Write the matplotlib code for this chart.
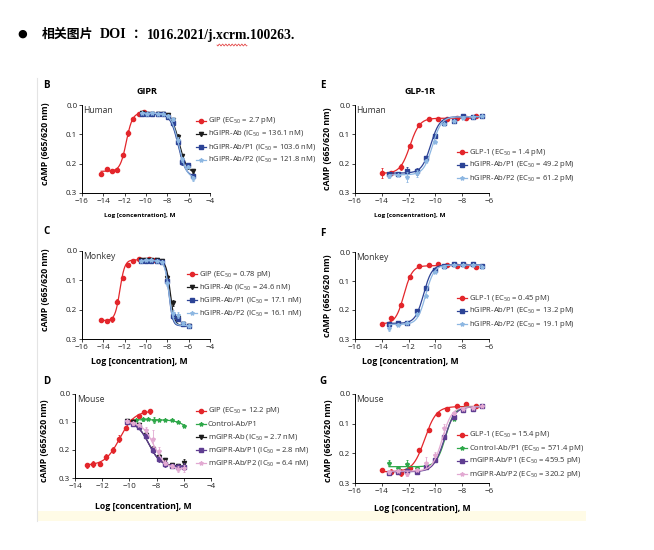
import numpy as np
import matplotlib
matplotlib.use("Agg")
import matplotlib.pyplot as plt
from matplotlib.lines import Line2D
from matplotlib.patches import Rectangle

W, H = 654, 550
plt.rcParams['font.family'] = ['Open Sans', 'DejaVu Sans']
plt.rcParams['mathtext.fontset'] = 'custom'
plt.rcParams['mathtext.rm'] = 'Open Sans'
plt.rcParams['mathtext.it'] = 'Open Sans'

RED = '#e3262b'; BLACK = '#1c1c1c'; DBLUE = '#2c4396'; LBLUE = '#8db7e2'
GREEN = '#2fa84a'; PURPLE = '#5f3d91'; PINK = '#e2a9d2'

# ---------------- data ----------------
# Panel B: GIPR human
B_gip_x = [-14.2, -13.7, -13.2, -12.7, -12.2, -11.7, -11.2, -10.7, -10.2]
B_gip_y = [0.235, 0.218, 0.224, 0.222, 0.171, 0.096, 0.049, 0.030, 0.025]
B_gip_e = [0.004, 0.004, 0.003, 0.005, 0.006, 0.010, 0.004, 0.003, 0.003]
B_gip_fit = [0.226, 0.026, -11.85, 1.5]
B_ab_x = [-10.4, -9.9, -9.4, -8.9, -8.4, -7.9, -7.5, -7.0, -6.6, -6.1, -5.6]
B_ab_y = [0.028, 0.030, 0.029, 0.030, 0.031, 0.035, 0.052, 0.108, 0.175, 0.212, 0.226]
B_ab_e = [0.003, 0.003, 0.003, 0.003, 0.003, 0.004, 0.006, 0.010, 0.008, 0.006, 0.006]
B_ab_fit = [0.029, 0.232, -6.88, 1.2]
B_p1_y = [0.030, 0.031, 0.029, 0.031, 0.032, 0.040, 0.060, 0.125, 0.195, 0.205, 0.243]
B_p1_e = [0.003, 0.003, 0.003, 0.003, 0.003, 0.004, 0.006, 0.008, 0.008, 0.006, 0.008]
B_p1_fit = [0.030, 0.245, -6.98, 1.2]
B_p2_y = [0.027, 0.029, 0.027, 0.030, 0.031, 0.036, 0.049, 0.118, 0.185, 0.210, 0.250]
B_p2_e = [0.003, 0.003, 0.003, 0.003, 0.003, 0.004, 0.006, 0.008, 0.008, 0.006, 0.008]
B_p2_fit = [0.028, 0.250, -6.91, 1.2]

# Panel C: GIPR monkey
C_gip_x = [-14.2, -13.7, -13.2, -12.7, -12.2, -11.7, -11.2, -10.7, -10.2, -9.7, -9.2]
C_gip_y = [0.236, 0.238, 0.233, 0.173, 0.091, 0.049, 0.034, 0.028, 0.030, 0.027, 0.030]
C_gip_e = [0.006, 0.003, 0.008, 0.008, 0.004, 0.003, 0.002, 0.003, 0.003, 0.003, 0.003]
C_gip_fit = [0.237, 0.030, -12.45, 1.9]
C_ab_x = [-10.5, -10.0, -9.5, -9.0, -8.5, -8.0, -7.5, -7.0, -6.5, -6.0]
C_ab_y = [0.032, 0.031, 0.030, 0.031, 0.035, 0.091, 0.177, 0.228, 0.250, 0.255]
C_ab_e = [0.003, 0.003, 0.003, 0.003, 0.003, 0.008, 0.010, 0.008, 0.004, 0.004]
C_ab_fit = [0.032, 0.255, -7.72, 2.2]
C_p1_y = [0.035, 0.034, 0.033, 0.034, 0.037, 0.103, 0.222, 0.232, 0.250, 0.256]
C_p1_e = [0.003, 0.003, 0.003, 0.003, 0.003, 0.008, 0.010, 0.008, 0.004, 0.006]
C_p1_fit = [0.035, 0.255, -7.85, 2.5]
C_p2_y = [0.033, 0.032, 0.031, 0.033, 0.036, 0.110, 0.213, 0.219, 0.247, 0.254]
C_p2_e = [0.003, 0.003, 0.003, 0.003, 0.003, 0.008, 0.012, 0.010, 0.005, 0.006]
C_p2_fit = [0.033, 0.254, -7.85, 2.2]

# Panel D: GIPR mouse
D_gip_x = [-13.1, -12.65, -12.15, -11.7, -11.2, -10.75, -10.25, -9.8, -9.3, -8.9, -8.45]
D_gip_y = [0.255, 0.250, 0.249, 0.225, 0.199, 0.160, 0.121, 0.095, 0.077, 0.064, 0.062]
D_gip_e = [0.008, 0.012, 0.006, 0.010, 0.010, 0.012, 0.008, 0.006, 0.005, 0.006, 0.010]
D_gip_fit = [0.255, 0.060, -10.7, 0.8]
D_ctl_x = [-9.5, -9.0, -8.6, -8.2, -7.8, -7.35, -6.9, -6.4, -5.95]
D_ctl_y = [0.092, 0.091, 0.090, 0.093, 0.093, 0.092, 0.093, 0.100, 0.114]
D_ctl_e = [0.004, 0.004, 0.004, 0.010, 0.004, 0.003, 0.003, 0.003, 0.004]
D_ctl_fit = [0.092, 0.140, -5.8, 1.0]
D_ab_x = [-10.2, -9.75, -9.3, -8.8, -8.3, -7.8, -7.35, -6.9, -6.45, -5.95]
D_ab_y = [0.095, 0.100, 0.112, 0.145, 0.196, 0.225, 0.235, 0.255, 0.258, 0.245]
D_ab_e = [0.005, 0.005, 0.006, 0.008, 0.010, 0.010, 0.008, 0.008, 0.008, 0.012]
D_ab_fit = [0.098, 0.258, -8.57, 1.0]
D_p1_y = [0.100, 0.106, 0.118, 0.150, 0.200, 0.232, 0.250, 0.257, 0.260, 0.260]
D_p1_e = [0.005, 0.005, 0.006, 0.008, 0.010, 0.012, 0.010, 0.008, 0.010, 0.012]
D_p1_fit = [0.100, 0.260, -8.55, 1.0]
D_p2_y = [0.098, 0.104, 0.110, 0.128, 0.160, 0.205, 0.245, 0.258, 0.268, 0.265]
D_p2_e = [0.005, 0.005, 0.006, 0.010, 0.030, 0.015, 0.010, 0.008, 0.010, 0.012]
D_p2_fit = [0.100, 0.268, -8.19, 1.0]

# Panels E-G: GLP-1R
EFG_lig_x = [-14.0, -13.3, -12.6, -11.9, -11.2, -10.5, -9.8, -9.1, -8.4, -7.7, -7.0]
EFG_ab_x = [-13.45, -12.77, -12.1, -11.4, -10.7, -10.03, -9.33, -8.64, -7.92, -7.22, -6.55]
E_glp_y = [0.232, 0.232, 0.212, 0.140, 0.068, 0.049, 0.048, 0.047, 0.045, 0.043, 0.038]
E_glp_e = [0.018, 0.005, 0.010, 0.004, 0.003, 0.002, 0.002, 0.002, 0.002, 0.002, 0.002]
E_glp_fit = [0.233, 0.045, -11.9, 1.2]
E_p1_y = [0.236, 0.234, 0.226, 0.226, 0.179, 0.105, 0.060, 0.053, 0.037, 0.040, 0.036]
E_p1_e = [0.005, 0.004, 0.015, 0.012, 0.005, 0.004, 0.003, 0.003, 0.003, 0.003, 0.002]
E_p1_fit = [0.232, 0.040, -10.35, 1.3]
E_p2_y = [0.243, 0.238, 0.245, 0.232, 0.190, 0.125, 0.066, 0.055, 0.045, 0.042, 0.038]
E_p2_e = [0.006, 0.004, 0.018, 0.012, 0.006, 0.005, 0.003, 0.003, 0.003, 0.003, 0.002]
E_p2_fit = [0.238, 0.040, -10.22, 1.3]

F_glp_y = [0.247, 0.228, 0.182, 0.086, 0.048, 0.046, 0.043, 0.046, 0.049, 0.049, 0.051]
F_glp_e = [0.003, 0.006, 0.004, 0.003, 0.002, 0.002, 0.002, 0.002, 0.002, 0.002, 0.002]
F_glp_fit = [0.248, 0.047, -12.35, 1.4]
F_p1_y = [0.247, 0.245, 0.245, 0.205, 0.125, 0.063, 0.048, 0.040, 0.043, 0.043, 0.049]
F_p1_e = [0.005, 0.004, 0.004, 0.006, 0.006, 0.003, 0.003, 0.003, 0.003, 0.003, 0.003]
F_p1_fit = [0.246, 0.044, -10.88, 1.4]
F_p2_y = [0.262, 0.250, 0.245, 0.215, 0.150, 0.070, 0.050, 0.045, 0.046, 0.046, 0.050]
F_p2_e = [0.010, 0.004, 0.004, 0.006, 0.006, 0.003, 0.003, 0.003, 0.003, 0.003, 0.003]
F_p2_fit = [0.250, 0.045, -10.72, 1.4]

G_glp_y = [0.257, 0.262, 0.265, 0.248, 0.189, 0.123, 0.067, 0.051, 0.042, 0.035, 0.042]
G_glp_e = [0.005, 0.008, 0.012, 0.005, 0.004, 0.003, 0.003, 0.003, 0.003, 0.008, 0.003]
G_glp_fit = [0.262, 0.042, -10.8, 1.0]
G_ctl_y = [0.234, 0.250, 0.236, 0.250, 0.243, 0.222, 0.145, 0.085, 0.055, 0.048, 0.042]
G_ctl_e = [0.010, 0.006, 0.012, 0.006, 0.005, 0.005, 0.005, 0.004, 0.003, 0.003, 0.003]
G_ctl_fit = [0.245, 0.042, -9.24, 1.3]
G_p1_y = [0.265, 0.263, 0.260, 0.263, 0.246, 0.221, 0.144, 0.076, 0.053, 0.050, 0.042]
G_p1_e = [0.006, 0.005, 0.006, 0.006, 0.005, 0.005, 0.005, 0.004, 0.003, 0.003, 0.003]
G_p1_fit = [0.262, 0.043, -9.34, 1.1]
G_p2_y = [0.262, 0.258, 0.268, 0.255, 0.232, 0.205, 0.115, 0.065, 0.050, 0.047, 0.042]
G_p2_e = [0.006, 0.005, 0.010, 0.005, 0.018, 0.008, 0.015, 0.005, 0.004, 0.004, 0.003]
G_p2_fit = [0.260, 0.043, -9.49, 1.2]

B_labels = ['GIP (EC$_{50}$ = 2.7 pM)', 'hGIPR-Ab (IC$_{50}$ = 136.1 nM)',
            'hGIPR-Ab/P1 (IC$_{50}$ = 103.6 nM)', 'hGIPR-Ab/P2 (IC$_{50}$ = 121.8 nM)']
C_labels = ['GIP (EC$_{50}$ = 0.78 pM)', 'hGIPR-Ab (IC$_{50}$ = 24.6 nM)',
            'hGIPR-Ab/P1 (IC$_{50}$ = 17.1 nM)', 'hGIPR-Ab/P2 (IC$_{50}$ = 16.1 nM)']
D_labels = ['GIP (EC$_{50}$ = 12.2 pM)', 'Control-Ab/P1', 'mGIPR-Ab (IC$_{50}$ = 2.7 nM)',
            'mGIPR-Ab/P1 (IC$_{50}$ = 2.8 nM)', 'mGIPR-Ab/P2 (IC$_{50}$ = 6.4 nM)']
E_labels = ['GLP-1 (EC$_{50}$ = 1.4 pM)', 'hGIPR-Ab/P1 (EC$_{50}$ = 49.2 pM)',
            'hGIPR-Ab/P2 (EC$_{50}$ = 61.2 pM)']
F_labels = ['GLP-1 (EC$_{50}$ = 0.45 pM)', 'hGIPR-Ab/P1 (EC$_{50}$ = 13.2 pM)',
            'hGIPR-Ab/P2 (EC$_{50}$ = 19.1 pM)']
G_labels = ['GLP-1 (EC$_{50}$ = 15.4 pM)', 'Control-Ab/P1 (EC$_{50}$ = 571.4 pM)',
            'mGIPR-Ab/P1 (EC$_{50}$ = 459.5 pM)', 'mGIPR-Ab/P2 (EC$_{50}$ = 320.2 pM)']

# ---------------- drawing ----------------
fig = plt.figure(figsize=(W / 100, H / 100), dpi=100)
fig.patch.set_facecolor('white')

def fx(x):
    return x / W

def fy(y):
    return 1 - y / H

# page decorations
fig.add_artist(Rectangle((fx(37), fy(521)), fx(586) - fx(37), fy(511) - fy(521),
                         transform=fig.transFigure, color='#fffbe6', lw=0, zorder=0))
fig.add_artist(Line2D([fx(37), fx(37)], [fy(78), fy(521)], transform=fig.transFigure,
                      color='#e4e4e4', lw=0.8))

fig.text(fx(22), fy(34), '●', fontsize=8, ha='center', va='center', family='DejaVu Sans')
fig.text(fx(42), fy(34), '相关图片', fontsize=9.3, fontweight='bold', ha='left', va='center',
         family=['Noto Sans CJK SC'])
fig.text(fx(100), fy(35), 'DOI', fontsize=10.2, fontweight='bold', ha='left', va='center',
         family=['Liberation Serif'])
fig.text(fx(133), fy(34), '：', fontsize=9.3, fontweight='bold', ha='left', va='center',
         family=['Noto Sans CJK SC'])
fig.text(fx(147), fy(35), '1016.2021/j.xcrm.100263.', fontsize=9.8, fontweight='bold',
         ha='left', va='center', family=['Liberation Serif'])
wx = np.linspace(217, 247, 60)
fig.add_artist(Line2D(fx(wx), fy(45 + 1.0 * np.sin((wx - 217) * 2 * np.pi / 3.2)),
                      transform=fig.transFigure, color='#e03030', lw=0.5))


def curve(ax, x, fit, color, z):
    A, D, c, h = fit
    xs = np.linspace(min(x), max(x), 300)
    ys = A + (D - A) / (1 + 10 ** ((c - xs) * h))
    ax.plot(xs, ys, color=color, lw=0.9, zorder=z)


def series(ax, x, y, e, fit, color, marker, z, ms=3.0):
    curve(ax, x, fit, color, z)
    ax.errorbar(x, y, yerr=e, fmt=marker, color=color, ms=ms, mec=color, mfc=color,
                elinewidth=0.6, capsize=1.0, capthick=0.6, lw=0, zorder=z + 0.5)


def make_axes(l, t, r, b, xlim, species, ylab_x, ylab_y, xlab_x, xlab_y, xlab_size):
    ax = fig.add_axes([fx(l), fy(b), fx(r) - fx(l), fy(t) - fy(b)])
    ax.set_xlim(*xlim)
    ax.set_ylim(0.3, 0.0)
    ticks = np.arange(xlim[0], xlim[1] + 1, 2)
    ax.set_xticks(ticks)
    ax.set_xticklabels(['\u2212%d' % abs(v) for v in ticks])
    ax.set_yticks([0.0, 0.1, 0.2, 0.3])
    ax.set_yticklabels(['0.0', '0.1', '0.2', '0.3'])
    for s in ['top', 'right']:
        ax.spines[s].set_visible(False)
    for s in ['left', 'bottom']:
        ax.spines[s].set_linewidth(0.7)
    ax.tick_params(labelsize=5.8, length=2.2, width=0.6, pad=1.2, colors='#222222')
    ax.set_facecolor('none')
    ax.set_ylabel('cAMP (665/620 nm)', fontsize=6.3, fontweight='bold')
    ax.yaxis.set_label_coords(ylab_x, ylab_y)
    ax.set_xlabel('Log [concentration], M', fontsize=xlab_size, fontweight='bold')
    ax.xaxis.set_label_coords(xlab_x, xlab_y)
    ax.text(0.012, 0.985, species, transform=ax.transAxes, fontsize=6.2, ha='left',
            va='top', color='#333333')
    return ax


def legend(entries, xh, xt, y0, dy=13.0):
    for i, (lab, col, mk) in enumerate(entries):
        y = y0 + i * dy
        fig.add_artist(Line2D([fx(xh), fx(xh + 10)], [fy(y), fy(y)], transform=fig.transFigure,
                              color=col, lw=0.9))
        fig.add_artist(Line2D([fx(xh + 5)], [fy(y)], transform=fig.transFigure, color=col,
                              marker=mk, ms=3.0, lw=0))
        fig.text(fx(xt), fy(y), lab, fontsize=5.5, ha='left', va='center', color='#333333')


def panel_letter(x, y, s):
    fig.text(fx(x), fy(y), s, fontsize=7, fontweight='bold', ha='center', va='center')

# B
axB = make_axes(82, 105, 210, 193, (-16, -4), 'Human', -0.25, 0.56, 0.45, -0.23, 4.6)
series(axB, B_gip_x, B_gip_y, B_gip_e, B_gip_fit, RED, 'o', 2)
series(axB, B_ab_x, B_ab_y, B_ab_e, B_ab_fit, BLACK, 'v', 3)
series(axB, B_ab_x, B_p1_y, B_p1_e, B_p1_fit, DBLUE, 's', 4)
series(axB, B_ab_x, B_p2_y, B_p2_e, B_p2_fit, LBLUE, '*', 5)
legend(list(zip(B_labels, [RED, BLACK, DBLUE, LBLUE], ['o', 'v', 's', '*'])), 196, 208, 120.5)
panel_letter(46, 85, 'B')
fig.text(fx(147), fy(92), 'GIPR', fontsize=6.5, fontweight='bold', ha='center', va='center')

# C
axC = make_axes(82, 251, 210, 339, (-16, -4), 'Monkey', -0.25, 0.56, 0.45, -0.2, 6.2)
series(axC, C_gip_x, C_gip_y, C_gip_e, C_gip_fit, RED, 'o', 2)
series(axC, C_ab_x, C_ab_y, C_ab_e, C_ab_fit, BLACK, 'v', 3)
series(axC, C_ab_x, C_p1_y, C_p1_e, C_p1_fit, DBLUE, 's', 4)
series(axC, C_ab_x, C_p2_y, C_p2_e, C_p2_fit, LBLUE, '*', 5)
legend(list(zip(C_labels, [RED, BLACK, DBLUE, LBLUE], ['o', 'v', 's', '*'])), 187, 199, 274)
panel_letter(46, 232, 'C')

# D
axD = make_axes(75, 394, 211, 478, (-14, -4), 'Mouse', -0.19, 0.45, 0.5, -0.28, 6.2)
series(axD, D_gip_x, D_gip_y, D_gip_e, D_gip_fit, RED, 'o', 2)
series(axD, D_ctl_x, D_ctl_y, D_ctl_e, D_ctl_fit, GREEN, '*', 3)
series(axD, D_ab_x, D_ab_y, D_ab_e, D_ab_fit, BLACK, 'v', 4)
series(axD, D_ab_x, D_p1_y, D_p1_e, D_p1_fit, PURPLE, 's', 5)
series(axD, D_ab_x, D_p2_y, D_p2_e, D_p2_fit, PINK, '*', 6)
legend(list(zip(D_labels, [RED, GREEN, BLACK, PURPLE, PINK], ['o', '*', 'v', 's', '*'])),
       196, 208, 411)
panel_letter(47, 382, 'D')

# E
axE = make_axes(355, 105, 489, 193, (-16, -6), 'Human', -0.17, 0.5, 0.41, -0.23, 4.6)
series(axE, EFG_lig_x, E_glp_y, E_glp_e, E_glp_fit, RED, 'o', 2)
series(axE, EFG_ab_x, E_p1_y, E_p1_e, E_p1_fit, DBLUE, 's', 3)
series(axE, EFG_ab_x, E_p2_y, E_p2_e, E_p2_fit, LBLUE, '*', 4)
legend(list(zip(E_labels, [RED, DBLUE, LBLUE], ['o', 's', '*'])), 457, 469, 152)
panel_letter(323, 85, 'E')
fig.text(fx(420), fy(92), 'GLP-1R', fontsize=6.5, fontweight='bold', ha='center', va='center')

# F
axF = make_axes(355, 252, 489, 339, (-16, -6), 'Monkey', -0.17, 0.5, 0.41, -0.2, 6.2)
series(axF, EFG_lig_x, F_glp_y, F_glp_e, F_glp_fit, RED, 'o', 2)
series(axF, EFG_ab_x, F_p1_y, F_p1_e, F_p1_fit, DBLUE, 's', 3)
series(axF, EFG_ab_x, F_p2_y, F_p2_e, F_p2_fit, LBLUE, '*', 4)
legend(list(zip(F_labels, [RED, DBLUE, LBLUE], ['o', 's', '*'])), 457, 469, 298)
panel_letter(323, 233, 'F')

# G
axG = make_axes(355, 394, 489, 483, (-16, -6), 'Mouse', -0.165, 0.48, 0.5, -0.24, 6.2)
series(axG, EFG_lig_x, G_glp_y, G_glp_e, G_glp_fit, RED, 'o', 2)
series(axG, EFG_ab_x, G_ctl_y, G_ctl_e, G_ctl_fit, GREEN, '*', 3)
series(axG, EFG_ab_x, G_p1_y, G_p1_e, G_p1_fit, PURPLE, 's', 4)
series(axG, EFG_ab_x, G_p2_y, G_p2_e, G_p2_fit, PINK, '*', 5)
legend(list(zip(G_labels, [RED, GREEN, PURPLE, PINK], ['o', '*', 's', '*'])), 457, 469, 435)
panel_letter(323, 382, 'G')

fig.savefig('out.png', dpi=100, facecolor='white')
